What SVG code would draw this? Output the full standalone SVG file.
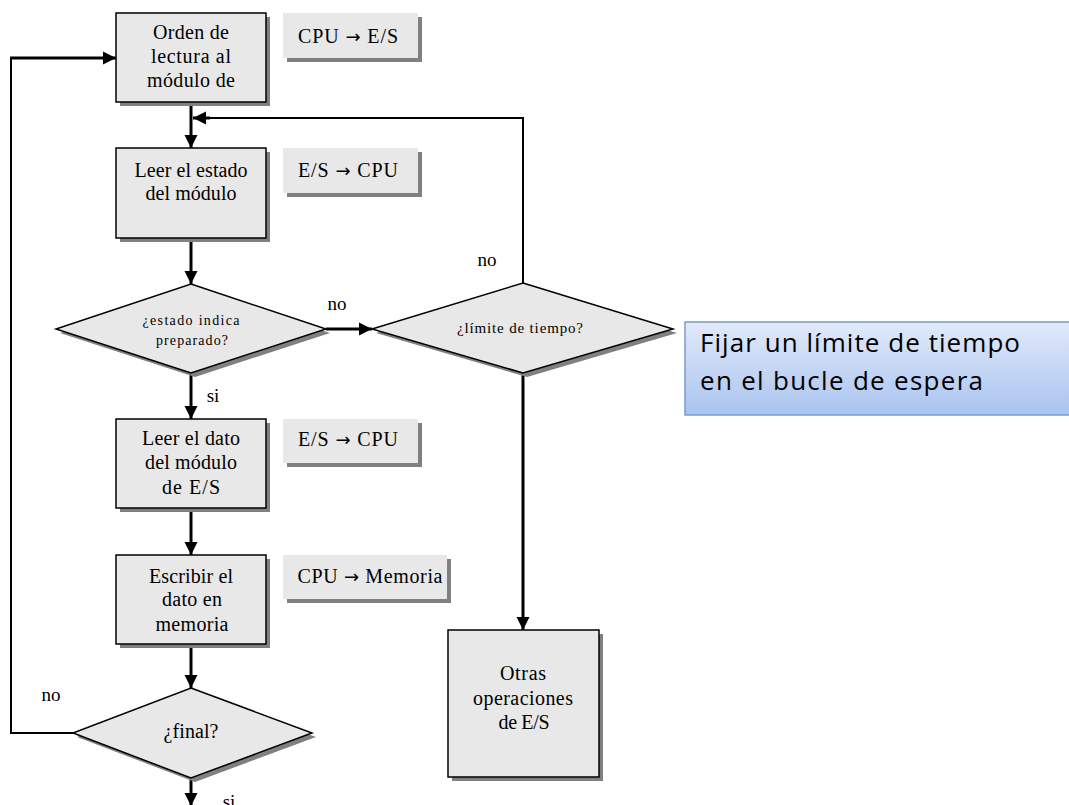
<svg xmlns="http://www.w3.org/2000/svg" width="1069" height="805" viewBox="0 0 1069 805">
  <style>
    .box { fill: #e8e8e8; stroke: #000; stroke-width: 1.5; }
    .shadow { fill: #808080; }
    .tag { fill: #e8e8e8; }
    .t { font-family: "Liberation Serif", "Times New Roman", serif; fill: #000; text-anchor: middle; }
    .big { font-size: 20px; }
    .lbl { font-size: 19px; }
    .sm { font-size: 14px; }
    .arr { font-family: "DejaVu Sans", sans-serif; font-size: 18px; }
    .wire { fill: none; stroke: #000; stroke-width: 3; }
    .thin { fill: none; stroke: #000; stroke-width: 2; }
    .note { font-family: "Open Sans", "Noto Sans", sans-serif; font-size: 26px; fill: #000; }
  </style>
  <defs>
    <marker id="arrow" viewBox="0 0 10 10" refX="10" refY="5" markerWidth="4.4" markerHeight="4.4" markerUnits="strokeWidth" orient="auto">
      <path d="M0,0 L10,5 L0,10 z" fill="#000"/>
    </marker>
    <linearGradient id="noteFill" x1="0" y1="0" x2="0" y2="1">
      <stop offset="0" stop-color="#e1eafa"/>
      <stop offset="1" stop-color="#a9c3ef"/>
    </linearGradient>
  </defs>

  <rect width="1069" height="805" fill="#fff"/>

  <!-- connectors -->
  <g id="connectors">
    <line class="wire" x1="191" y1="102" x2="191" y2="148" marker-end="url(#arrow)"/>
    <polyline class="thin" points="523,283 523,118 208,118"/>
    <line class="wire" x1="210" y1="118" x2="193" y2="118" marker-end="url(#arrow)"/>
    <line class="wire" x1="191" y1="238" x2="191" y2="284" marker-end="url(#arrow)"/>
    <line class="wire" x1="326" y1="329" x2="372" y2="329" marker-end="url(#arrow)"/>
    <line class="wire" x1="191" y1="373" x2="191" y2="419" marker-end="url(#arrow)"/>
    <line class="wire" x1="191" y1="508" x2="191" y2="555" marker-end="url(#arrow)"/>
    <line class="wire" x1="191" y1="644" x2="191" y2="688" marker-end="url(#arrow)"/>
    <line class="wire" x1="523" y1="373" x2="523" y2="630" marker-end="url(#arrow)"/>
    <polyline class="thin" points="73,733 11,733 11,58"/>
    <line class="wire" x1="10" y1="58" x2="116" y2="58" marker-end="url(#arrow)"/>
    <line class="wire" x1="191" y1="779" x2="191" y2="806" marker-end="url(#arrow)"/>
    <text class="t lbl" x="337" y="310">no</text>
    <text class="t lbl" x="487" y="266">no</text>
    <text class="t lbl" x="213" y="402">si</text>
    <text class="t lbl" x="51" y="701">no</text>
    <text class="t lbl" x="229" y="808">si</text>
  </g>

  <!-- process: order read -->
  <g id="n-orden">
    <rect class="shadow" x="120" y="17" width="150" height="89"/>
    <rect class="box" x="116" y="13" width="150" height="89"/>
    <text class="t big" x="191" y="39" textLength="76" lengthAdjust="spacing">Orden de</text>
    <text class="t big" x="191" y="63" textLength="80" lengthAdjust="spacing">lectura al</text>
    <text class="t big" x="191" y="87" textLength="88" lengthAdjust="spacing">módulo de</text>
  </g>
  <g id="n-tag1">
    <rect class="shadow" x="287" y="17" width="135" height="45"/>
    <rect class="tag" x="283" y="13" width="135" height="45"/>
    <text class="t big" x="348" y="43" textLength="100" lengthAdjust="spacing">CPU <tspan class="arr">→</tspan> E/S</text>
  </g>

  <!-- process: read status -->
  <g id="n-estado">
    <rect class="shadow" x="120" y="152" width="150" height="90"/>
    <rect class="box" x="116" y="148" width="150" height="90"/>
    <text class="t big" x="191" y="177" textLength="113" lengthAdjust="spacing">Leer el estado</text>
    <text class="t big" x="191" y="200" textLength="91" lengthAdjust="spacing">del módulo</text>
  </g>
  <g id="n-tag2">
    <rect class="shadow" x="287" y="152" width="135" height="45"/>
    <rect class="tag" x="283" y="148" width="135" height="45"/>
    <text class="t big" x="348" y="177" textLength="100" lengthAdjust="spacing">E/S <tspan class="arr">→</tspan> CPU</text>
  </g>

  <!-- decision: ready? -->
  <g id="n-preparado">
    <polygon class="shadow" points="195,288 330,333 195,377 60,333"/>
    <polygon class="box" points="191,284 326,329 191,373 56,329"/>
    <text class="t sm" x="191" y="325" textLength="97" lengthAdjust="spacing">¿estado indica</text>
    <text class="t sm" x="192" y="345" textLength="72" lengthAdjust="spacing">preparado?</text>
  </g>

  <!-- decision: timeout? -->
  <g id="n-limite">
    <polygon class="shadow" points="527,287 677,333 527,377 376,333"/>
    <polygon class="box" points="523,283 673,329 523,373 372,329"/>
    <text class="t" style="font-size:15px" x="520" y="333" textLength="126" lengthAdjust="spacing">¿límite de tiempo?</text>
  </g>

  <!-- note -->
  <g id="n-nota">
    <rect x="685" y="322" width="390" height="93" fill="url(#noteFill)" stroke="#7c9bd0" stroke-width="1.5"/>
    <text class="note" x="700" y="352" textLength="320" lengthAdjust="spacing">Fijar un límite de tiempo</text>
    <text class="note" x="700" y="390" textLength="283" lengthAdjust="spacing">en el bucle de espera</text>
  </g>

  <!-- process: read data -->
  <g id="n-dato">
    <rect class="shadow" x="120" y="423" width="150" height="89"/>
    <rect class="box" x="116" y="419" width="150" height="89"/>
    <text class="t big" x="191" y="445" textLength="98" lengthAdjust="spacing">Leer el dato</text>
    <text class="t big" x="191" y="469" textLength="92" lengthAdjust="spacing">del módulo</text>
    <text class="t big" x="191" y="494" textLength="58" lengthAdjust="spacing">de  E/S</text>
  </g>
  <g id="n-tag3">
    <rect class="shadow" x="287" y="423" width="135" height="44"/>
    <rect class="tag" x="283" y="419" width="135" height="44"/>
    <text class="t big" x="348" y="446" textLength="100" lengthAdjust="spacing">E/S <tspan class="arr">→</tspan> CPU</text>
  </g>

  <!-- process: write memory -->
  <g id="n-escribir">
    <rect class="shadow" x="120" y="559" width="150" height="89"/>
    <rect class="box" x="116" y="555" width="150" height="89"/>
    <text class="t big" x="191" y="583" textLength="84" lengthAdjust="spacing">Escribir el</text>
    <text class="t big" x="192" y="606" textLength="60" lengthAdjust="spacing">dato en</text>
    <text class="t big" x="192" y="631" textLength="73" lengthAdjust="spacing">memoria</text>
  </g>
  <g id="n-tag4">
    <rect class="shadow" x="287" y="559" width="164" height="44"/>
    <rect class="tag" x="283" y="555" width="164" height="44"/>
    <text class="t big" x="370" y="583" textLength="145" lengthAdjust="spacing">CPU <tspan class="arr">→</tspan> Memoria</text>
  </g>

  <!-- decision: end? -->
  <g id="n-final">
    <polygon class="shadow" points="195,692 316,737 195,782 77,737"/>
    <polygon class="box" points="191,688 312,733 191,778 73,733"/>
    <text class="t big" x="191" y="738" textLength="55" lengthAdjust="spacing">¿final?</text>
  </g>

  <!-- process: other I/O -->
  <g id="n-otras">
    <rect class="shadow" x="452" y="634" width="151" height="147"/>
    <rect class="box" x="448" y="630" width="151" height="147"/>
    <text class="t big" x="523" y="680" textLength="46" lengthAdjust="spacing">Otras</text>
    <text class="t big" x="523" y="705" textLength="100" lengthAdjust="spacing">operaciones</text>
    <text class="t big" x="524" y="729" textLength="51" lengthAdjust="spacing">de E/S</text>
  </g>
</svg>
